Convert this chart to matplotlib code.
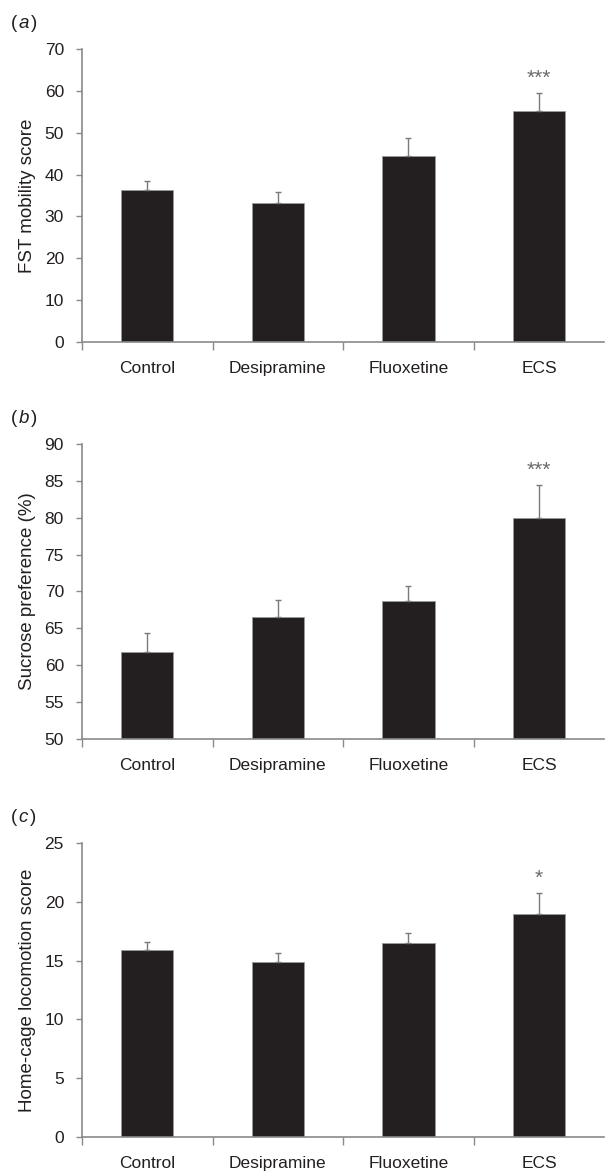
import matplotlib
matplotlib.use("Agg")
import matplotlib.pyplot as plt

plt.rcParams['font.family'] = ['Liberation Sans', 'DejaVu Sans']

# Groups shared by all three panels
groups = ["Control", "Desipramine", "Fluoxetine", "ECS"]

# (a) forced swim test
fst_mean = [36.2, 33.3, 44.4, 55.2]
fst_sem = [2.3, 2.5, 4.3, 4.4]
fst_stars = ["", "", "", "***"]

# (b) sucrose preference
suc_mean = [61.8, 66.6, 68.7, 80.0]
suc_sem = [2.5, 2.2, 2.0, 4.4]
suc_stars = ["", "", "", "***"]

# (c) home-cage locomotion
loc_mean = [15.9, 14.9, 16.45, 18.95]
loc_sem = [0.7, 0.7, 0.85, 1.75]
loc_stars = ["", "", "", "*"]

panels = [
    ("a", fst_mean, fst_sem, fst_stars, "FST mobility score", (0, 70), range(0, 71, 10)),
    ("b", suc_mean, suc_sem, suc_stars, "Sucrose preference (%)", (50, 90), range(50, 91, 5)),
    ("c", loc_mean, loc_sem, loc_stars, "Home-cage locomotion score", (0, 25), range(0, 26, 5)),
]

# axes boxes in figure fractions (left, bottom, width, height)
boxes = [
    (0.1353, 0.7082, 0.862, 0.250),
    (0.1353, 0.3695, 0.862, 0.2517),
    (0.1353, 0.0299, 0.862, 0.2509),
]

axis_col = "#8a8a8a"
text_col = "#231f20"
bar_col = "#231f20"

fig = plt.figure(figsize=(6.06, 11.72), dpi=100)

for (letter, mean, sem, stars, ylabel, ylim, yticks), box in zip(panels, boxes):
    ax = fig.add_axes(box)
    x = list(range(len(groups)))
    ax.bar(x, mean, width=0.4, color=bar_col, edgecolor="#9a9a9a", linewidth=0.6, zorder=2)
    ax.errorbar(x, mean, yerr=[[0] * len(sem), sem], fmt="none", ecolor="#7a7a7a",
                elinewidth=1.0, capsize=2, capthick=1.0, zorder=3)
    span = ylim[1] - ylim[0]
    for xi, m, s, st in zip(x, mean, sem, stars):
        if st:
            ax.text(xi, m + s + 0.05 * span, st, ha="center", va="center",
                    fontsize=15, color="#6a6a6a")

    ax.set_ylim(*ylim)
    ax.set_xlim(-0.5, 3.5)
    ax.set_yticks(list(yticks))
    ax.set_yticklabels([str(v) for v in yticks], fontsize=12.5, color=text_col)
    ax.set_xticks([-0.5, 0.5, 1.5, 2.5])
    ax.set_xticklabels([])
    ax.set_xticks(x, minor=True)
    ax.set_xticklabels(groups, minor=True, fontsize=12.5, color=text_col)
    ax.tick_params(axis="x", which="major", length=6, width=1, color=axis_col, direction="out")
    ax.tick_params(axis="x", which="minor", length=0, pad=14)
    ax.tick_params(axis="y", length=4, width=1, color=axis_col, pad=9)
    ax.set_ylabel(ylabel, fontsize=13.5, color=text_col, labelpad=6)

    for side in ["top", "right"]:
        ax.spines[side].set_visible(False)
    for side in ["left", "bottom"]:
        ax.spines[side].set_color(axis_col)
        ax.spines[side].set_linewidth(1.2)

    # panel letter, italic inside parentheses
    ytop = box[1] + box[3] + 0.022
    fig.text(0.018, ytop, "(", fontsize=13.5, color=text_col, va="center")
    fig.text(0.031, ytop, letter, fontsize=13.5, color=text_col, va="center", style="italic")
    fig.text(0.031 + (0.020 if letter != "c" else 0.019), ytop, ")", fontsize=13.5,
             color=text_col, va="center")

fig.savefig("out.png", dpi=100)
